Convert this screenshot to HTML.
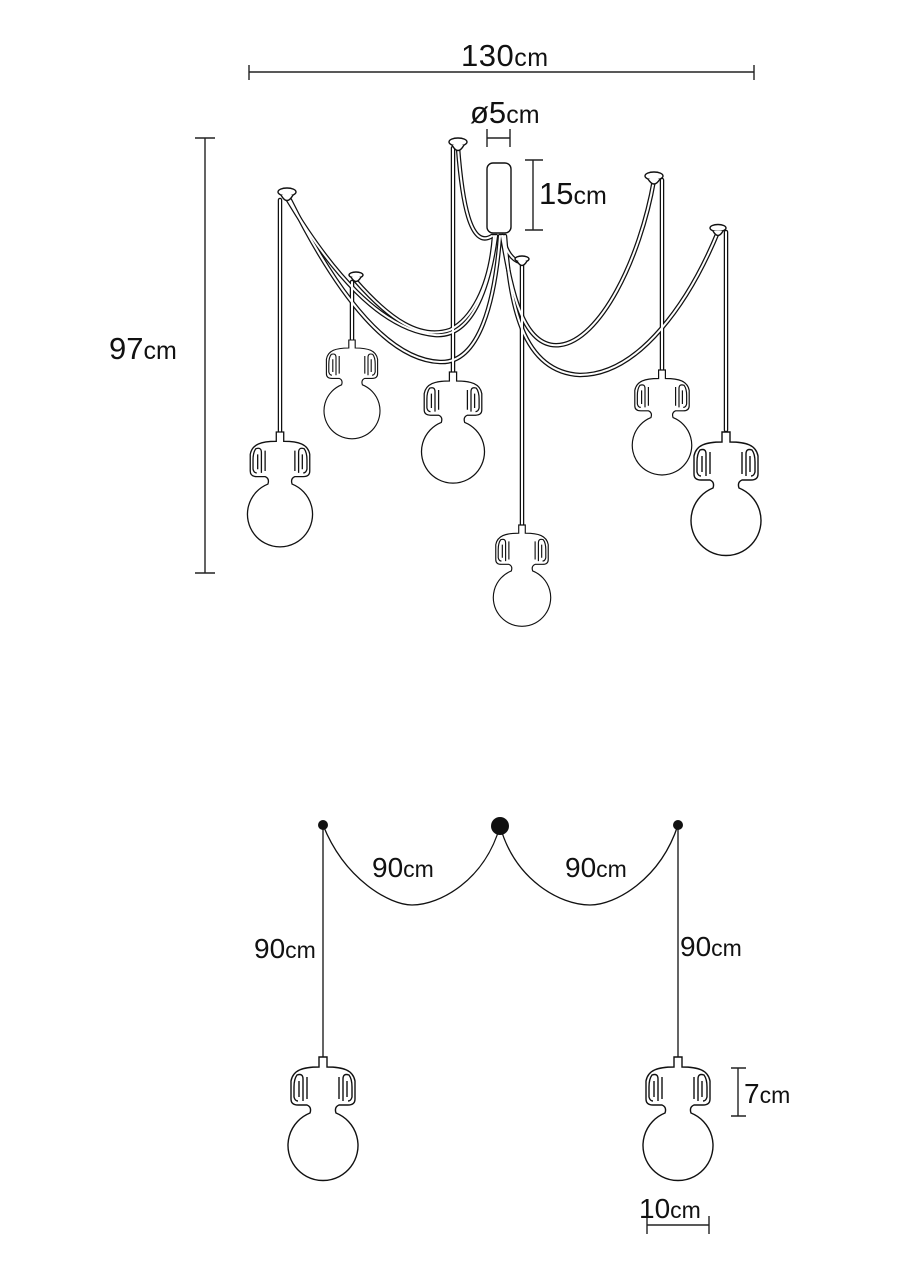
<!DOCTYPE html>
<html><head><meta charset="utf-8"><style>
html,body{margin:0;padding:0;background:#fff}
svg{display:block}
text{font-family:"Liberation Sans",sans-serif;fill:#111}
</style></head><body>
<svg width="904" height="1280" viewBox="0 0 904 1280" xmlns="http://www.w3.org/2000/svg">
<defs>
<g id="lamp" fill="none" stroke="#111" stroke-width="1.4">
<path d="M-4,0 L4,0 L4,10 C20,10 30,13 32,24 L32,42 Q32,48 25,48 L16,48 Q11,50 13,56 A35,35 0 1 1 -13,56 Q-11,50 -16,48 L-25,48 Q-32,48 -32,42 L-32,24 C-30,13 -20,10 -4,10 Z" fill="#fff"/>
<path d="M-20,44 L-20,22 Q-20,16 -26,18 Q-29,22 -29,30 L-29,40 Q-28,44 -25,44"/>
<path d="M-24,40 L-24,24 M-16,42 L-16,20"/>
<path d="M20,44 L20,22 Q20,16 26,18 Q29,22 29,30 L29,40 Q28,44 25,44"/>
<path d="M24,40 L24,24 M16,42 L16,20"/>
</g>
</defs>

<g stroke="#222" stroke-width="1.4" fill="none">
<path d="M249,72 L754,72 M249,65 L249,80 M754,65 L754,80"/>
<path d="M487,129 L487,147 M510,129 L510,147 M487,138 L510,138"/>
<path d="M533,160 L533,230 M525,160 L543,160 M525,230 L543,230"/>
<path d="M205,138 L205,573 M195,138 L215,138 M195,573 L215,573"/>
</g>
<text x="461" y="66" font-size="31" letter-spacing="0.5">130<tspan font-size="25">cm</tspan></text>
<text x="470" y="123" font-size="31">ø5<tspan font-size="25">cm</tspan></text>
<text x="539" y="204" font-size="31">15<tspan font-size="25">cm</tspan></text>
<text x="109" y="359" font-size="31">97<tspan font-size="25">cm</tspan></text>

<g fill="none" stroke-linecap="round">
<g stroke="#111" stroke-width="4.5">
<path d="M288,200 C330,270 380,330 435,335 C475,338 490,280 496,236"/>
<path d="M290,200 C340,300 390,360 440,362 C480,364 495,300 500,236"/>
<path d="M355,280 C390,320 420,340 450,330 C470,320 490,290 494,236"/>
<path d="M458,148 C462,200 470,250 492,236"/>
<path d="M654,180 C640,260 600,340 560,345 C520,350 510,280 502,236"/>
<path d="M718,232 C690,300 640,375 580,375 C520,372 510,300 505,236"/>
<path d="M520,262 C512,260 505,250 503,236"/>
<path d="M280,200 L280,432 M352,282 L352,340 M453,148 L453,372 M522,262 L522,525 M662,180 L662,370 M726,232 L726,430"/>
</g>
<g stroke="#fff" stroke-width="2">
<path d="M288,200 C330,270 380,330 435,335 C475,338 490,280 496,236"/>
<path d="M290,200 C340,300 390,360 440,362 C480,364 495,300 500,236"/>
<path d="M355,280 C390,320 420,340 450,330 C470,320 490,290 494,236"/>
<path d="M458,148 C462,200 470,250 492,236"/>
<path d="M654,180 C640,260 600,340 560,345 C520,350 510,280 502,236"/>
<path d="M718,232 C690,300 640,375 580,375 C520,372 510,300 505,236"/>
<path d="M520,262 C512,260 505,250 503,236"/>
<path d="M280,200 L280,432 M352,282 L352,340 M453,148 L453,372 M522,262 L522,525 M662,180 L662,370 M726,232 L726,430"/>
</g>
</g>
<g fill="#fff" stroke="#111" stroke-width="1.4">
<rect x="487" y="163" width="24" height="70" rx="6"/>
<ellipse cx="287" cy="192" rx="9" ry="4"/><path d="M281,195 Q287,206 293,195"/>
<ellipse cx="458" cy="142" rx="9" ry="4"/><path d="M452,145 Q458,156 464,145"/>
<ellipse cx="356" cy="275" rx="7" ry="3"/><path d="M351,277 Q356,286 361,277"/>
<ellipse cx="522" cy="259" rx="7" ry="3"/><path d="M517,261 Q522,270 527,261"/>
<ellipse cx="654" cy="176" rx="9" ry="4"/><path d="M648,179 Q654,189 660,179"/>
<ellipse cx="718" cy="228" rx="8" ry="3.5"/><path d="M713,231 Q718,240 723,231"/>
</g>
<use href="#lamp" transform="translate(280,432) scale(0.93)"/>
<use href="#lamp" transform="translate(352,340) scale(0.8)"/>
<use href="#lamp" transform="translate(453,372) scale(0.9)"/>
<use href="#lamp" transform="translate(522,525) scale(0.82)"/>
<use href="#lamp" transform="translate(662,370) scale(0.85)"/>
<use href="#lamp" transform="translate(726,432) scale(1.0)"/>

<g fill="none" stroke="#111" stroke-width="1.3">
<path d="M323,825 C345,880 390,905 412,905 C440,905 485,880 500,826"/>
<path d="M500,826 C515,880 560,905 590,905 C615,905 660,880 678,825"/>
<path d="M323,825 L323,1057 M678,825 L678,1057"/>
</g>
<circle cx="323" cy="825" r="5" fill="#111"/>
<circle cx="500" cy="826" r="9" fill="#111"/>
<circle cx="678" cy="825" r="5" fill="#111"/>
<use href="#lamp" transform="translate(323,1057)"/>
<use href="#lamp" transform="translate(678,1057)"/>
<text x="372" y="877" font-size="28">90<tspan font-size="23">cm</tspan></text>
<text x="565" y="877" font-size="28">90<tspan font-size="23">cm</tspan></text>
<text x="254" y="958" font-size="28">90<tspan font-size="23">cm</tspan></text>
<text x="680" y="956" font-size="28">90<tspan font-size="23">cm</tspan></text>
<g stroke="#222" stroke-width="1.4" fill="none">
<path d="M738,1068 L738,1116 M731,1068 L746,1068 M731,1116 L746,1116"/>
<path d="M647,1225 L709,1225 M647,1216 L647,1234 M709,1216 L709,1234"/>
</g>
<text x="744" y="1103" font-size="28">7<tspan font-size="23">cm</tspan></text>
<text x="639" y="1218" font-size="28">10<tspan font-size="23">cm</tspan></text>
</svg>
</body></html>
